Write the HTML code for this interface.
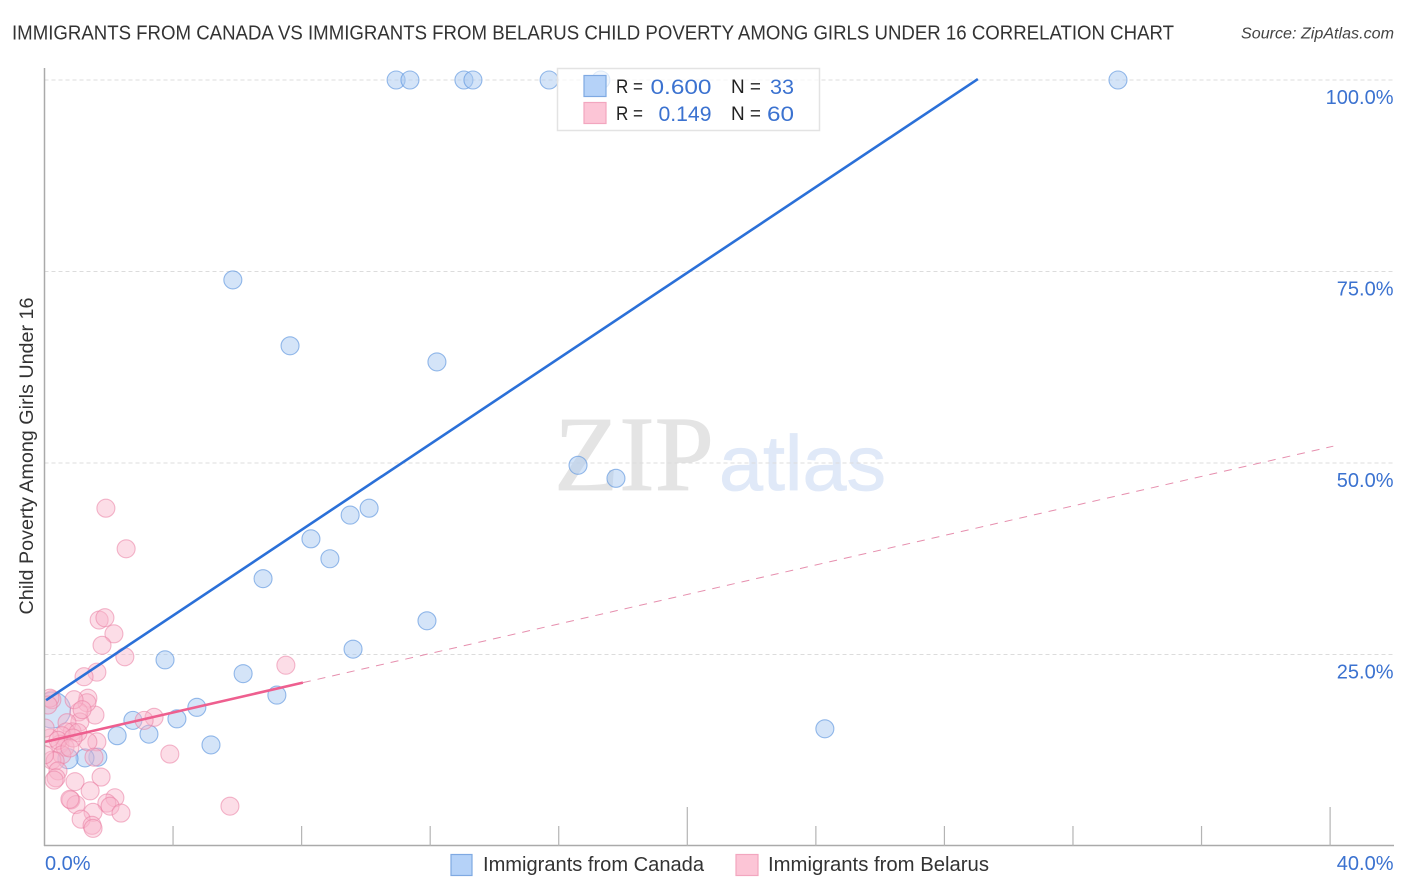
<!DOCTYPE html>
<html lang="en">
<head>
<meta charset="utf-8">
<title>Immigrants from Canada vs Immigrants from Belarus Child Poverty Correlation Chart</title>
<style>
html,body{margin:0;padding:0;background:#fff;width:1406px;height:892px;overflow:hidden}
svg{display:block;font-family:"Liberation Sans",sans-serif}
</style>
</head>
<body>
<svg id="chart" width="1406" height="892" viewBox="0 0 1406 892" xmlns="http://www.w3.org/2000/svg">
  <defs>
    <clipPath id="plot-clip"><rect x="44.5" y="60" width="1350" height="786"/></clipPath>
  </defs>
  <rect x="0" y="0" width="1406" height="892" fill="#fff"/>
  <text x="12" y="39.5" font-size="20" fill="#333" textLength="1162" lengthAdjust="spacingAndGlyphs">IMMIGRANTS FROM CANADA VS IMMIGRANTS FROM BELARUS CHILD POVERTY AMONG GIRLS UNDER 16 CORRELATION CHART</text>
  <text x="1241" y="38.5" font-size="15.5" font-style="italic" fill="#444" textLength="153" lengthAdjust="spacingAndGlyphs">Source: ZipAtlas.com</text>
  <g>
    <text x="554" y="490" font-family="'Liberation Serif',serif" font-size="107" fill="#e4e4e4" stroke="#e4e4e4" stroke-width="0.8" textLength="160" lengthAdjust="spacingAndGlyphs">ZIP</text>
    <text x="719" y="490" font-size="78" fill="#e0e9f8" stroke="#e0e9f8" stroke-width="0.8" textLength="167" lengthAdjust="spacingAndGlyphs">atlas</text>
  </g>
  <g id="grid"></g>
  <g id="points" clip-path="url(#plot-clip)"></g>
  <g id="trends"></g>
  <g id="axes"></g>
  <text transform="translate(33,456) rotate(-90)" text-anchor="middle" font-size="19" fill="#333" textLength="317" lengthAdjust="spacingAndGlyphs">Child Poverty Among Girls Under 16</text>

  <g>
    <rect x="557.5" y="68.5" width="262" height="62" fill="#fff" fill-opacity="0.7" stroke="#e3e3e3" stroke-width="1.5"/>
    <rect x="584" y="75.5" width="22" height="21" fill="#b5d2f8" stroke="#7fa9e2" stroke-width="1.2"/>
    <rect x="584" y="102.5" width="22" height="21" fill="#fcc5d6" stroke="#f2a6bf" stroke-width="1.2"/>
    <text x="616" y="93" font-size="19" fill="#222" textLength="27" lengthAdjust="spacingAndGlyphs">R =</text>
    <text x="650.5" y="94" font-size="21.5" fill="#3b72d0" textLength="61" lengthAdjust="spacingAndGlyphs">0.600</text>
    <text x="731" y="93" font-size="19" fill="#222" textLength="30" lengthAdjust="spacingAndGlyphs">N =</text>
    <text x="770" y="94" font-size="21.5" fill="#3b72d0" textLength="24" lengthAdjust="spacingAndGlyphs">33</text>
    <text x="616" y="120" font-size="19" fill="#222" textLength="27" lengthAdjust="spacingAndGlyphs">R =</text>
    <text x="658.5" y="121" font-size="21.5" fill="#3b72d0" textLength="53" lengthAdjust="spacingAndGlyphs">0.149</text>
    <text x="731" y="120" font-size="19" fill="#222" textLength="30" lengthAdjust="spacingAndGlyphs">N =</text>
    <text x="767" y="121" font-size="21.5" fill="#3b72d0" textLength="27" lengthAdjust="spacingAndGlyphs">60</text>
  </g>

  <g>
    <rect x="451" y="854.5" width="21" height="21" fill="#b5d2f8" stroke="#7fa9e2" stroke-width="1.2"/>
    <text x="483" y="871" font-size="20" fill="#333" textLength="221" lengthAdjust="spacingAndGlyphs">Immigrants from Canada</text>
    <rect x="736" y="854.5" width="22" height="21" fill="#fcc5d6" stroke="#f2a6bf" stroke-width="1.2"/>
    <text x="768" y="871" font-size="20" fill="#333" textLength="221" lengthAdjust="spacingAndGlyphs">Immigrants from Belarus</text>
  </g>
</svg>
<script>
const xTickValues = [0, 4, 8, 12, 16, 20, 24, 28, 32, 36, 40];
const xMajorTicks = [0, 20, 40];
const xTickLabels = ["0.0%", "40.0%"];
const yTickValues = [25, 50, 75, 100];
const yTickLabels = ["25.0%", "50.0%", "75.0%", "100.0%"];

const canadaX = [10.94, 11.37, 13.05, 13.33, 15.70, 17.31, 33.40, 5.86, 7.64, 12.21, 16.60, 17.78, 10.10, 9.51, 8.29, 8.88, 6.80, 11.90, 9.60, 3.75, 6.18, 7.23, 4.74, 2.75, 4.12, 2.26, 3.25, 5.18, 24.28, 1.66, 1.26, 0.73, 0.25];
const canadaY = [100, 100, 100, 100, 100, 100, 100, 73.9, 65.3, 63.2, 49.7, 48.0, 44.1, 43.2, 40.1, 37.5, 34.9, 29.4, 25.7, 24.3, 22.5, 19.7, 18.1, 16.4, 16.6, 14.4, 14.6, 13.2, 15.3, 11.6, 11.5, 11.4, 17.75];
const canadaWeight = [1, 1, 1, 1, 1, 1, 1, 1, 1, 1, 1, 1, 1, 1, 1, 1, 1, 1, 1, 1, 1, 1, 1, 1, 1, 1, 1, 1, 1, 1, 1, 1.25, 4];

const belarusX = [1.91, 2.54, 1.70, 1.88, 2.16, 1.79, 2.50, 1.63, 1.23, 7.51, 3.41, 3.10, 3.90, 5.77, 1.76, 0.95, 1.42, 0.82, 0.98, 0.79, 2.19, 1.94, 2.04, 2.38, 1.51, 1.14, 1.48, 1.51, 1.63, 1.35, 1.57, 1.35, 1.32, 1.07, 1.10, 0.92, 0.23, 0.17, 0.70, 1.17, 0.86, 0.67, 0.54, 0.48, 0.64, 0.17, 0.42, 0.54, 0.23, 0.33, 0.42, 0.36, 0.30, 1.54, 0.02, 0.0, 1.04, 0.89, 0.79, 0.11];
const belarusY = [44.1, 38.8, 29.5, 29.8, 27.7, 26.2, 24.7, 22.7, 22.1, 23.6, 16.8, 16.4, 12.0, 5.2, 9.0, 8.4, 7.2, 6.0, 5.4, 6.1, 6.3, 5.6, 5.2, 4.3, 4.4, 3.5, 2.7, 2.3, 13.6, 13.6, 17.1, 19.3, 18.7, 17.5, 16.2, 19.1, 19.1, 19.3, 16.1, 17.8, 14.9, 14.9, 14.4, 13.3, 12.9, 14.1, 13.8, 11.9, 11.2, 11.1, 9.8, 8.9, 8.6, 11.6, 15.4, 11.9, 14.8, 14.1, 12.8, 18.4];

const canadaTrendCoef = [18.9, 2.797];
const canadaTrendRange = [0.05, 29.04];
const belarusTrendCoef = [13.58, 0.963];
const belarusSolidRange = [0, 8.04];
const belarusDashedRange = [8.04, 40.1];

const SVG_NS = "http://www.w3.org/2000/svg";
function xScale(v) { return 44.5 + v * 32.14; }
function yScale(v) { return 846 - v * 7.66; }
function make(tag, attrs, parent) {
  const el = document.createElementNS(SVG_NS, tag);
  for (const k in attrs) el.setAttribute(k, attrs[k]);
  parent.appendChild(el);
  return el;
}

const gridG = document.getElementById("grid");
const axesG = document.getElementById("axes");
const pointsG = document.getElementById("points");
const trendsG = document.getElementById("trends");

yTickValues.forEach(function (v, i) {
  const line = make("line", {x1: 44.5, x2: 1393, y1: yScale(v), y2: yScale(v), stroke: "#dcdcdc", "stroke-width": 1, "stroke-dasharray": "4 3"}, gridG);
  
  
  const label = make("text", {x: 1393.5, y: yScale(v) + 24, "text-anchor": "end", "font-size": 20, fill: "#3b72d0"}, axesG);
  
  
  label.textContent = yTickLabels[i];
});

const yAxisLine = make("line", {x1: 44.5, x2: 44.5, y1: 68, y2: 846, stroke: "#aaa", "stroke-width": 1.5}, axesG);


const xAxisLine = make("line", {x1: 44, x2: 1394, y1: 845.5, y2: 845.5, stroke: "#aaa", "stroke-width": 1.5}, axesG);



xTickValues.forEach(function (v) {
  if (v === 0) return;
  const top = xMajorTicks.indexOf(v) >= 0 ? 807 : 826;
  const tick = make("line", {x1: xScale(v), x2: xScale(v), y1: top, y2: 846, stroke: "#b4b4b4", "stroke-width": 1.2}, axesG);
  
  
});

const xLabelStart = make("text", {x: 45, y: 870, "font-size": 20, fill: "#3b72d0"}, axesG);


xLabelStart.textContent = xTickLabels[0];
const xLabelEnd = make("text", {x: 1393.5, y: 870, "text-anchor": "end", "font-size": 20, fill: "#3b72d0"}, axesG);


xLabelEnd.textContent = xTickLabels[1];

canadaX.forEach(function (v, i) {
  const pt = make("circle", {cx: xScale(v), cy: yScale(canadaY[i]), r: 9 * Math.sqrt(canadaWeight[i]), fill: "#a9c9f2", "fill-opacity": 0.5, stroke: "#5f97de", "stroke-opacity": 0.65, "stroke-width": 1.1}, pointsG);
  
  
});
belarusX.forEach(function (v, i) {
  const pt = make("circle", {cx: xScale(v), cy: yScale(belarusY[i]), r: 9, fill: "#f9b4c9", "fill-opacity": 0.45, stroke: "#ea7ea3", "stroke-opacity": 0.55, "stroke-width": 1.1}, pointsG);
  
  
});

function trendLine(coef, range, attrs) {
  return make("line", Object.assign({
    x1: xScale(range[0]), y1: yScale(coef[0] + coef[1] * range[0]),
    x2: xScale(range[1]), y2: yScale(coef[0] + coef[1] * range[1])
  }, attrs), trendsG);
}
const canadaTrend = trendLine(canadaTrendCoef, canadaTrendRange, {stroke: "#2b70d8", "stroke-width": 2.6});


const belarusDashed = trendLine(belarusTrendCoef, belarusDashedRange, {stroke: "#e68fae", "stroke-width": 1, "stroke-dasharray": "8 7"});


const belarusSolid = trendLine(belarusTrendCoef, belarusSolidRange, {stroke: "#ee5f8f", "stroke-width": 2.6});


</script>
</body>
</html>
